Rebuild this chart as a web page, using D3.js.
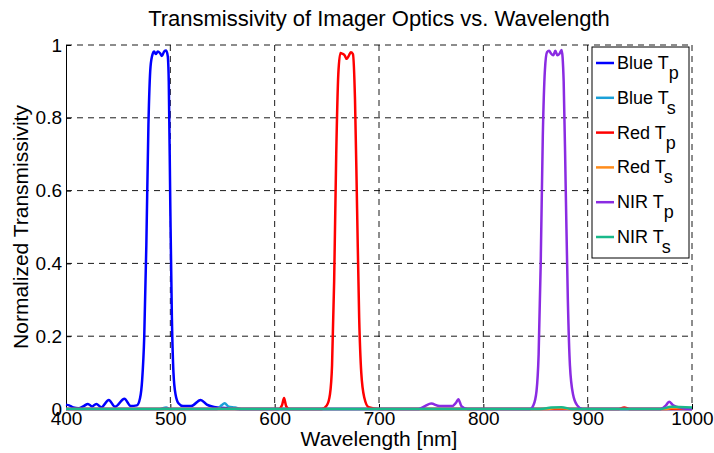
<!DOCTYPE html>
<html>
<head>
<meta charset="utf-8">
<script src="https://cdn.jsdelivr.net/npm/d3@7"></script>
<style>
  body { margin: 0; background: #fff; }
  svg text { font-family: "Liberation Sans", Arial, sans-serif; fill: #000; }
</style>
</head>
<body>
<svg id="chart" width="714" height="453"></svg>
<script>
// wavelength [nm], normalized transmissivity
let blueTp = [[400,0.012],[403,0.01],[407,0.004],[412,0.002],[417,0.008],[421,0.014],[425,0.007],[429,0.014],[434,0.005],
  [441,0.025],[447,0.006],[456,0.028],[462,0.008],[468,0.01],[471,0.03],[473,0.08],[475,0.2],[477,0.45],[479,0.78],[481,0.94],
  [483,0.975],[484.5,0.982],[486,0.975],[488,0.982],[490,0.978],[492,0.97],[494,0.982],[496,0.985],[497.5,0.97],[498.5,0.9],
  [500,0.55],[501.5,0.25],[503,0.1],[505,0.04],[508,0.015],[512,0.008],[520,0.008],[529,0.025],[535,0.012],[545,0.004],[555,0.002],[570,0],[1000,0]]
let blueTs = [[400,0],[490,0],[496,0.004],[500,0],[545,0],[549,0.01],[552,0.016],[556,0.006],[562,0.004],[568,0],[1000,0]]
let redTp = [[400,0],[604,0],[607,0.01],[609,0.03],[611,0.008],[614,0],[645,0],[650,0.01],[653,0.04],[655,0.12],[657,0.35],
  [659,0.7],[661,0.92],[663,0.978],[665,0.976],[667,0.972],[669,0.962],[671,0.97],[673,0.98],[675,0.975],[677,0.85],
  [679,0.55],[681,0.25],[683,0.1],[686,0.03],[690,0.005],[700,0],[930,0],[935,0.004],[940,0],[1000,0]]
let redTs = [[400,0],[860,0],[868,0.002],[876,0.002],[882,0],[975,0],[980,0.003],[1000,0.002]]
let nirTp = [[400,0],[738,0],[744,0.008],[750,0.015],[758,0.008],[770,0.008],[774,0.018],[776,0.027],[779,0.008],[785,0],
  [845,0],[848,0.01],[851,0.05],[853,0.15],[855,0.4],[857,0.75],[859,0.93],[861,0.98],[863,0.984],[865,0.976],[867,0.972],
  [869,0.984],[871,0.972],[873,0.976],[875,0.986],[877,0.9],[879,0.6],[881,0.3],[883,0.12],[886,0.04],[890,0.01],[895,0],
  [970,0],[975,0.01],[978,0.02],[982,0.01],[990,0.003],[1000,0]]
let nirTs = [[400,0],[855,0],[865,0.004],[875,0.005],[885,0],[970,0],[980,0.006],[1000,0.004]]

let seriesNames = ["Blue", "Blue", "Red", "Red", "NIR", "NIR"]
let seriesSubs = ["p", "s", "p", "s", "p", "s"]
let seriesData = [blueTp, blueTs, redTp, redTs, nirTp, nirTs]
let seriesColors = ["#0000ff", "#1aa0d8", "#ff0000", "#ff8c1a", "#8a2be2", "#19b98a"]
let xTicks = [400, 500, 600, 700, 800, 900, 1000]
let yTicks = [0, 0.2, 0.4, 0.6, 0.8, 1]

let svg = d3.select("#chart")
let plotL = 66, plotR = 692, plotT = 45, plotB = 409
let x = d3.scaleLinear().domain([400, 1000]).range([plotL, plotR])
let y = d3.scaleLinear().domain([0, 1]).range([plotB, plotT])

// grid
let grid = svg.append("g")
grid.selectAll("line.vg")
  .data(xTicks.slice(1))
  .join("line")
    .classed("vg", true)
    .attr("x1", d => x(d)).attr("x2", d => x(d))
    .attr("y1", plotT).attr("y2", plotB)
grid.selectAll("line.hg")
  .data(yTicks.slice(1))
  .join("line")
    .classed("hg", true)
    .attr("x1", plotL).attr("x2", plotR)
    .attr("y1", d => y(d)).attr("y2", d => y(d))
grid.selectAll("line")
  .attr("stroke", "#000")
  .attr("stroke-width", 0.9)
  .attr("stroke-dasharray", "6,5")

// axes
let xAxis = svg.append("g")
  .attr("transform", `translate(0,${plotB})`)
  .call(d3.axisBottom(x).tickValues(xTicks).tickFormat(d3.format("d")).tickSizeInner(-5).tickSizeOuter(0).tickPadding(4))
let yAxis = svg.append("g")
  .attr("transform", `translate(${plotL},0)`)
  .call(d3.axisLeft(y).tickValues(yTicks).tickFormat(d => d === 0 || d === 1 ? d : d.toFixed(1)).tickSizeInner(-5).tickSizeOuter(0).tickPadding(4))
for (let ax of [xAxis, yAxis]) {
  ax.selectAll("text").style("font-family", "Liberation Sans, Arial, sans-serif").style("font-size", "19px").attr("fill", "#000")
  ax.select(".domain").attr("stroke", "#000")
  ax.selectAll(".tick line").attr("stroke", "#000")
}
xAxis.selectAll("text").attr("dy", "0.62em")

// lines
let line = d3.line()
  .x(d => x(d[0]))
  .y(d => y(d[1]))
  .curve(d3.curveMonotoneX)
svg.append("g")
  .selectAll("path")
  .data(seriesData)
  .join("path")
    .attr("fill", "none")
    .attr("stroke", (d, i) => seriesColors[i])
    .attr("stroke-width", 2.5)
    .attr("stroke-linejoin", "round")
    .attr("d", line)

// titles
svg.append("text")
  .attr("x", (plotL + plotR) / 2).attr("y", 26)
  .attr("text-anchor", "middle")
  .style("font-size", "22px")
  .text("Transmissivity of Imager Optics vs. Wavelength")
svg.append("text")
  .attr("x", (plotL + plotR) / 2).attr("y", 446)
  .attr("text-anchor", "middle")
  .style("font-size", "21px")
  .text("Wavelength [nm]")
svg.append("text")
  .attr("transform", `translate(28,${(plotT + plotB) / 2}) rotate(-90)`)
  .attr("text-anchor", "middle")
  .style("font-size", "21px")
  .text("Normalized Transmissivity")

// legend
let legend = svg.append("g").attr("transform", "translate(592,47)")
legend.append("rect")
  .attr("width", 97).attr("height", 211)
  .attr("fill", "#fff").attr("stroke", "#000").attr("stroke-width", 1)
let items = legend.selectAll("g")
  .data(seriesNames)
  .join("g")
    .attr("transform", (d, i) => `translate(0,${16 + i * 34.8})`)
items.append("line")
  .attr("x1", 4).attr("x2", 22)
  .attr("stroke", (d, i) => seriesColors[i])
  .attr("stroke-width", 2.5)
let labels = items.append("text")
  .attr("x", 25).attr("y", 6)
  .style("font-size", "18px")
labels.append("tspan").text(d => d + " T")
labels.append("tspan").attr("dy", 10).text((d, i) => seriesSubs[i])
</script>
</body>
</html>
